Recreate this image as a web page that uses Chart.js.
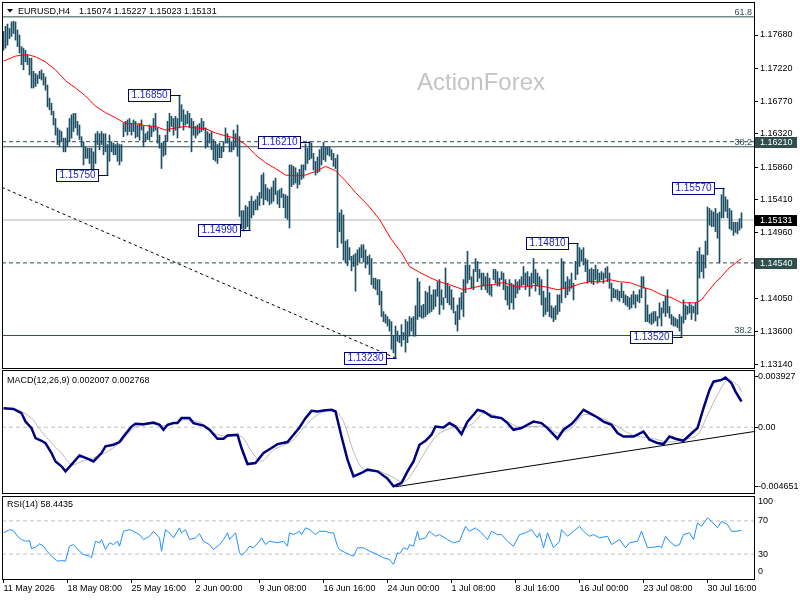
<!DOCTYPE html>
<html><head><meta charset="utf-8">
<script src="https://cdn.jsdelivr.net/npm/chart.js@4.4.1/dist/chart.umd.min.js"></script>
<style>
html,body{margin:0;padding:0;background:#fff;width:800px;height:600px;overflow:hidden}
canvas{position:absolute;left:0}
#c1{top:0}#c2{top:370px}#c3{top:495px}
</style></head><body>
<canvas id="c1" width="800" height="370"></canvas>
<canvas id="c2" width="800" height="124"></canvas>
<canvas id="c3" width="800" height="105"></canvas>
<script>
// ---------- DATA ----------
const symbolTitle = "EURUSD,H4";
const ohlcTitle = "1.15074 1.15227 1.15023 1.15131";
const macdTitle = "MACD(12,26,9) 0.002007 0.002768";
const rsiTitle = "RSI(14) 58.4435";
const watermark = "ActionForex";

const timeTickIdx = [0,32,64,96,128,160,192,224,256,288,320,352];
const timeTickLabels = ["11 May 2026","18 May 08:00","25 May 16:00","2 Jun 00:00","9 Jun 08:00","16 Jun 16:00","24 Jun 00:00","1 Jul 08:00","8 Jul 16:00","16 Jul 00:00","23 Jul 08:00","30 Jul 16:00"];
const priceTicks = [1.1768,1.1722,1.1677,1.1632,1.1586,1.1541,1.1496,1.1450,1.1405,1.1360,1.1314];
const macdTicks = [0.003927,0,-0.004651];
const macdTickLabels = ["0.003927","0.00","-0.004651"];
const rsiTicks = [100,70,30,0];

const barHigh = [
1.1773,1.1780,1.1783,1.1777,1.1786,1.1787,1.1786,1.1775,1.1768,1.1752,
1.1750,1.1747,1.1740,1.1736,1.1736,1.1718,1.1715,1.1713,1.1718,1.1720,
1.1715,1.1710,1.1699,1.1681,1.1674,1.1663,1.1653,1.1640,1.1637,1.1635,
1.1626,1.1626,1.1640,1.1653,1.1658,1.1660,1.1660,1.1649,1.1644,1.1628,
1.1621,1.1614,1.1612,1.1612,1.1612,1.1607,1.1632,1.1635,1.1632,1.1635,
1.1632,1.1632,1.1617,1.1630,1.1621,1.1619,1.1617,1.1619,1.1617,1.1617,
1.1646,1.1649,1.1651,1.1653,1.1646,1.1651,1.1649,1.1644,1.1646,1.1651,
1.1642,1.1632,1.1635,1.1644,1.1642,1.1653,1.1660,1.1640,1.1630,1.1619,
1.1621,1.1630,1.1649,1.1660,1.1656,1.1653,1.1656,1.1653,1.1685,1.1672,
1.1665,1.1658,1.1663,1.1660,1.1653,1.1649,1.1642,1.1644,1.1646,1.1653,
1.1649,1.1640,1.1635,1.1632,1.1635,1.1624,1.1621,1.1617,1.1619,1.1614,
1.1621,1.1640,1.1632,1.1626,1.1621,1.1637,1.1632,1.1644,1.1628,1.1526,
1.1526,1.1533,1.1531,1.1539,1.1546,1.1539,1.1541,1.1546,1.1551,1.1575,
1.1578,1.1562,1.1557,1.1555,1.1558,1.1567,1.1571,1.1553,1.1555,1.1557,
1.1549,1.1548,1.1546,1.1589,1.1589,1.1587,1.1585,1.1578,1.1583,1.1589,
1.1589,1.1618,1.1612,1.1621,1.1619,1.1605,1.1594,1.1600,1.1610,1.1614,
1.1620,1.1614,1.1614,1.1614,1.1610,1.1605,1.1598,1.1603,1.1523,1.1527,
1.1520,1.1484,1.1486,1.1475,1.1463,1.1465,1.1467,1.1472,1.1475,1.1479,
1.1479,1.1472,1.1463,1.1465,1.1460,1.1433,1.1433,1.1431,1.1431,1.1415,
1.1387,1.1383,1.1380,1.1376,1.1373,1.1353,1.1367,1.1360,1.1353,1.1369,
1.1358,1.1376,1.1373,1.1380,1.1378,1.1380,1.1395,1.1433,1.1428,1.1395,
1.1397,1.1415,1.1413,1.1422,1.1410,1.1417,1.1417,1.1428,1.1431,1.1417,
1.1406,1.1447,1.1426,1.1422,1.1417,1.1406,1.1387,1.1396,1.1406,1.1413,
1.1431,1.1451,1.1470,1.1451,1.1435,1.1445,1.1460,1.1456,1.1445,1.1440,
1.1440,1.1435,1.1440,1.1433,1.1424,1.1445,1.1445,1.1442,1.1433,1.1442,
1.1440,1.1431,1.1422,1.1431,1.1426,1.1424,1.1431,1.1428,1.1431,1.1435,
1.1449,1.1440,1.1442,1.1435,1.1440,1.1460,1.1445,1.1440,1.1435,1.1431,
1.1415,1.1406,1.1445,1.1413,1.1395,1.1392,1.1395,1.1410,1.1410,1.1460,
1.1456,1.1428,1.1435,1.1431,1.1440,1.1426,1.1456,1.1481,1.1475,1.1472,
1.1475,1.1460,1.1458,1.1445,1.1447,1.1445,1.1451,1.1445,1.1440,1.1442,
1.1440,1.1447,1.1449,1.1440,1.1426,1.1419,1.1417,1.1417,1.1415,1.1426,
1.1415,1.1410,1.1408,1.1406,1.1410,1.1415,1.1410,1.1410,1.1417,1.1435,
1.1435,1.1419,1.1396,1.1383,1.1385,1.1387,1.1387,1.1380,1.1399,1.1392,
1.1401,1.1408,1.1417,1.1394,1.1383,1.1380,1.1378,1.1376,1.1383,1.1380,
1.1403,1.1396,1.1394,1.1399,1.1396,1.1394,1.1399,1.1470,1.1475,1.1465,
1.1465,1.1484,1.1531,1.1529,1.1526,1.1524,1.1529,1.1522,1.1524,1.1548,
1.1557,1.1545,1.1541,1.1529,1.1526,1.1510,1.1510,1.1510,1.1515,1.1523];
const barLow = [
1.1747,1.1750,1.1754,1.1763,1.1766,1.1770,1.1761,1.1752,1.1743,1.1727,
1.1720,1.1731,1.1727,1.1713,1.1695,1.1695,1.1697,1.1701,1.1708,1.1706,
1.1699,1.1692,1.1669,1.1665,1.1658,1.1644,1.1630,1.1617,1.1614,1.1621,
1.1607,1.1607,1.1614,1.1621,1.1626,1.1635,1.1640,1.1630,1.1624,1.1614,
1.1589,1.1598,1.1598,1.1591,1.1580,1.1580,1.1591,1.1617,1.1610,1.1617,
1.1603,1.1607,1.1575,1.1594,1.1607,1.1603,1.1603,1.1594,1.1589,1.1594,
1.1628,1.1635,1.1630,1.1635,1.1630,1.1635,1.1626,1.1628,1.1623,1.1637,
1.1614,1.1621,1.1624,1.1623,1.1628,1.1635,1.1637,1.1619,1.1612,1.1584,
1.1601,1.1603,1.1621,1.1635,1.1642,1.1630,1.1637,1.1626,1.1640,1.1649,
1.1637,1.1644,1.1646,1.1640,1.1607,1.1630,1.1626,1.1630,1.1633,1.1635,
1.1637,1.1612,1.1614,1.1619,1.1610,1.1596,1.1594,1.1591,1.1599,1.1599,
1.1607,1.1619,1.1619,1.1607,1.1607,1.1610,1.1614,1.1601,1.1518,1.1501,
1.1498,1.1501,1.1504,1.1499,1.1516,1.1520,1.1527,1.1527,1.1533,1.1543,
1.1534,1.1541,1.1539,1.1534,1.1536,1.1539,1.1548,1.1535,1.1530,1.1544,
1.1530,1.1516,1.1514,1.1502,1.1559,1.1562,1.1564,1.1557,1.1562,1.1569,
1.1571,1.1582,1.1591,1.1596,1.1598,1.1582,1.1575,1.1578,1.1580,1.1589,
1.1596,1.1594,1.1603,1.1601,1.1596,1.1587,1.1584,1.1475,1.1497,1.1481,
1.1458,1.1454,1.1450,1.1458,1.1443,1.1449,1.1415,1.1451,1.1455,1.1461,
1.1455,1.1447,1.1452,1.1438,1.1424,1.1419,1.1417,1.1410,1.1396,1.1380,
1.1373,1.1371,1.1367,1.1360,1.1335,1.1330,1.1323,1.1346,1.1344,1.1339,
1.1348,1.1331,1.1344,1.1353,1.1360,1.1353,1.1353,1.1376,1.1380,1.1378,
1.1378,1.1380,1.1383,1.1385,1.1387,1.1390,1.1394,1.1408,1.1383,1.1396,
1.1390,1.1406,1.1399,1.1396,1.1390,1.1385,1.1369,1.1360,1.1376,1.1390,
1.1380,1.1413,1.1426,1.1431,1.1419,1.1417,1.1442,1.1428,1.1433,1.1417,
1.1422,1.1417,1.1413,1.1410,1.1408,1.1431,1.1426,1.1422,1.1422,1.1431,
1.1417,1.1403,1.1396,1.1390,1.1399,1.1390,1.1406,1.1412,1.1417,1.1422,
1.1424,1.1417,1.1422,1.1408,1.1419,1.1426,1.1415,1.1422,1.1410,1.1396,
1.1380,1.1383,1.1387,1.1380,1.1378,1.1373,1.1376,1.1383,1.1387,1.1399,
1.1419,1.1406,1.1410,1.1415,1.1419,1.1403,1.1431,1.1438,1.1449,1.1456,
1.1451,1.1442,1.1426,1.1428,1.1426,1.1424,1.1431,1.1426,1.1428,1.1431,
1.1426,1.1433,1.1428,1.1419,1.1401,1.1406,1.1406,1.1403,1.1401,1.1406,
1.1399,1.1396,1.1394,1.1390,1.1392,1.1397,1.1392,1.1401,1.1399,1.1406,
1.1419,1.1373,1.1373,1.1371,1.1369,1.1371,1.1374,1.1367,1.1378,1.1367,
1.1385,1.1380,1.1385,1.1378,1.1369,1.1367,1.1367,1.1365,1.1360,1.1352,
1.1371,1.1376,1.1383,1.1385,1.1376,1.1385,1.1374,1.1383,1.1433,1.1442,
1.1433,1.1447,1.1465,1.1506,1.1504,1.1504,1.1497,1.1488,1.1454,1.1516,
1.1516,1.1525,1.1516,1.1501,1.1499,1.1492,1.1496,1.1494,1.1499,1.1502];

const maIdx = [0,6,12,16,21,26,31,36,41,46,51,56,61,66,71,76,81,86,91,96,101,106,111,116,121,126,131,136,141,146,151,156,161,166,171,176,182,188,194,199,203,208,213,218,223,230,235,240,245,250,256,261,266,271,277,283,288,293,300,303,308,313,319,324,329,334,339,346,349,352,356,359,362,366,369];
const maVal = [1.1732,1.1739,1.1741,1.1738,1.1731,1.1720,1.1705,1.1695,1.1684,1.1670,1.1661,1.1654,1.1646,1.1646,1.1643,1.1642,1.1637,1.1640,1.1642,1.1640,1.1639,1.1633,1.1629,1.1626,1.1617,1.1603,1.1592,1.1584,1.1575,1.1574,1.1575,1.1580,1.1587,1.1581,1.1567,1.1551,1.1534,1.1514,1.1486,1.1468,1.1449,1.1441,1.1434,1.1428,1.1424,1.1417,1.1420,1.1423,1.1424,1.1427,1.1421,1.1421,1.1423,1.1421,1.1417,1.1420,1.1425,1.1428,1.1428,1.1431,1.1428,1.1427,1.1421,1.1417,1.1410,1.1406,1.1399,1.1399,1.1403,1.1414,1.1427,1.1435,1.1445,1.1454,1.1460];

const macdIdx = [0,5,9,11,14,16,19,21,24,26,29,31,34,38,42,45,49,51,55,58,60,64,66,70,75,78,80,82,85,87,89,93,95,100,103,107,110,112,117,119,122,126,130,134,137,142,145,148,151,154,157,160,164,166,169,172,175,179,182,187,192,195,199,202,205,208,211,214,216,220,223,226,229,232,235,237,240,244,249,252,255,259,262,265,269,272,277,280,284,286,290,294,297,300,304,307,310,315,320,323,327,330,333,336,340,345,347,350,353,355,359,361,364,366,369];
const macdVal = [0.00149,0.00143,0.0011,0.00044,-0.00007,-0.00085,-0.00106,-0.00124,-0.00202,-0.00268,-0.00306,-0.00345,-0.00293,-0.00221,-0.00246,-0.00268,-0.00202,-0.0015,-0.00137,-0.00116,-0.00073,0.00005,0.00027,0.00024,0.00037,0.00019,-0.0002,0.00019,0.00032,0.00032,0.00071,0.00071,0.00032,0.00013,-0.0002,-0.0009,-0.0009,-0.00065,-0.00059,-0.00163,-0.00288,-0.0028,-0.00202,-0.00163,-0.00132,-0.00116,-0.00059,-0.00002,0.00071,0.00128,0.00123,0.0013,0.00136,0.00123,-0.00073,-0.00254,-0.00385,-0.00358,-0.00332,-0.00345,-0.00402,-0.00462,-0.00436,-0.00345,-0.00268,-0.00137,-0.00106,-0.00059,0.00005,-0.00002,0.00032,0.00005,-0.00054,0.00044,0.00097,0.00136,0.00123,0.00083,0.00071,0.00032,-0.0002,-0.00007,0.00019,0.00044,0.00032,-0.00007,-0.0009,-0.0002,0.00024,0.00058,0.00136,0.00102,0.00076,0.00044,0.00019,-0.00046,-0.00073,-0.00073,-0.00034,-0.00098,-0.00124,-0.00132,-0.00073,-0.0009,-0.00106,-0.00034,-0.00007,0.00149,0.00292,0.00356,0.0037,0.00388,0.00344,0.00278,0.00201];

const sigIdx = [0,7,14,19,24,29,34,39,45,52,59,65,74,82,90,99,105,112,119,124,129,135,144,150,157,165,170,175,180,187,194,199,202,207,212,217,224,230,235,240,249,257,265,272,277,284,290,299,307,315,324,332,340,347,352,357,362,367,369];
const sigVal = [0.00149,0.00136,0.00071,-0.00034,-0.00124,-0.00202,-0.00293,-0.00268,-0.00241,-0.0019,-0.00112,-0.00007,0.00024,0.00011,0.00058,0.00032,-0.00046,-0.00073,-0.00073,-0.0019,-0.00268,-0.00176,-0.00112,-0.00007,0.00097,0.00136,0.00044,-0.0019,-0.00332,-0.0034,-0.00385,-0.00428,-0.0041,-0.00293,-0.00163,-0.00059,-0.00007,-0.00002,0.00032,0.0011,0.00071,0.00005,0.00005,0.00005,-0.00046,-0.00007,0.00097,0.00071,0.00005,-0.00065,-0.00085,-0.00116,-0.00098,-0.00059,0.00097,0.00253,0.0037,0.0033,0.00277];

const rsiIdx = [0,3,5,7,9,11,13,14,16,18,20,22,24,27,29,31,33,35,38,40,43,44,46,48,49,51,53,55,57,58,60,63,65,68,70,73,75,78,79,81,83,85,88,89,91,93,96,98,100,103,105,108,110,112,113,116,118,119,121,123,125,128,129,131,133,137,140,142,143,145,148,149,151,153,156,158,161,163,165,167,168,171,173,175,177,180,183,187,190,193,195,197,198,200,202,203,205,207,208,211,213,216,218,222,225,228,231,233,236,239,242,244,247,249,252,255,258,261,264,267,268,270,272,275,278,279,282,284,288,290,293,295,298,302,304,308,311,313,317,319,322,325,328,329,331,333,336,338,340,343,345,347,349,352,354,357,359,362,364,366,369];
const rsiVal = [55.6,59.5,58.3,51.5,47.5,45.5,46.3,36.7,38.3,42.4,39.5,32.8,27.5,21.5,22.3,21.5,39.5,41.5,33.5,29.5,27.5,25.6,45.5,43.6,47.5,35.5,43.6,41.5,45.5,39.5,57.5,59.5,57.5,53.5,47.5,51.5,57.5,49.6,33.5,59.5,55.6,49.6,61.6,55.6,59.5,47.5,49.6,54.4,45.5,41.5,35.5,41.5,47.5,55.6,47.5,55.6,31.6,28.7,32.8,39.5,37.6,45.5,49.6,41.5,45.5,43.6,45.5,39.5,55.6,53.5,57.5,53.5,61.6,59.5,53.5,57.5,57.5,55.6,55.6,39.5,35.5,31.6,29.5,27.5,37.6,37.6,33.5,29.5,25.6,23.5,17.5,31.6,30.4,37.6,35.5,41.5,39.5,57.5,47.5,49.6,57.5,51.5,53.5,47.5,43.6,45.5,63.5,57.5,61.6,55.6,47.5,57.5,53.5,53.5,45.5,39.5,53.5,55.6,59.5,49.6,55.6,37.6,55.6,37.6,45.5,59.5,51.5,55.6,63.5,57.5,51.5,53.5,49.6,51.5,41.5,47.5,37.6,43.6,45.5,57.5,37.6,38.3,39.5,37.6,51.5,45.5,39.5,41.5,53.5,55.6,47.5,67.6,63.5,73.6,69.5,61.6,69.5,65.5,57.5,57.5,58.4];

// horizontal levels and trendlines
const fib618 = 1.1793, level1621 = 1.1621, fib382a = 1.1614, bidPrice = 1.15131, level1454 = 1.1454, fib382b = 1.1354;
const trendIdx = [-0.75, 196], trendVal = [1.1558, 1.1323];
const macdTrendIdx = [196, 375.25], macdTrendVal = [-0.00466, -0.00034];
const markIdx = [88, 52, 153, 123, 196, 287, 339, 360];
const markVal = [1.1685, 1.1575, 1.1621, 1.1499, 1.1323, 1.1481, 1.1352, 1.1557];

// ---------- CHARTS ----------
const X_MIN = -0.75, X_MAX = 375.25;
const P_MIN = 1.130918, P_MAX = 1.181347;
const M_MIN = -0.005145, M_MAX = 0.004473;
const FONT = "'Liberation Sans', Arial, sans-serif";
Chart.defaults.font.family = FONT;
Chart.defaults.font.size = 9;
Chart.defaults.color = '#000';
const SLATE = '#2f4f4f';

function pts(ix, vals){ return ix.map((x,i)=>({x:x, y:vals[i]})); }
function hline(v, color, dash, order){
  return {type:'line', data:[{x:X_MIN,y:v},{x:X_MAX,y:v}], borderColor:color, borderWidth:1, borderDash:dash||[], pointRadius:0, order:order||20};
}
function fitY(s){ s.width = 46; s.paddingTop = 0; s.paddingBottom = 0; }
const hiddenX = {type:'linear', min:X_MIN, max:X_MAX, display:false, offset:false};
const commonOpts = {responsive:false, animation:false, devicePixelRatio:1, events:[],
  plugins:{legend:{display:false}, tooltip:{enabled:false}}};

function border(chart){
  const ca = chart.chartArea, ctx = chart.ctx;
  ctx.save(); ctx.strokeStyle = '#000'; ctx.lineWidth = 1;
  ctx.strokeRect(ca.left+0.5, ca.top+0.5, ca.width, ca.height); ctx.restore();
}

const mainPlugin = {
  id:'mainDecor',
  beforeDatasetsDraw(chart){
    const ctx = chart.ctx; ctx.save();
    ctx.font = "24px " + FONT; ctx.fillStyle = '#c4c4c4'; ctx.textBaseline = 'alphabetic';
    ctx.fillText(watermark, 417, 90); ctx.restore();
  },
  afterDraw(chart){
    const ctx = chart.ctx, xs = chart.scales.x, ys = chart.scales.y;
    border(chart);
    ctx.save();
    ctx.fillStyle = '#000';
    ctx.beginPath(); ctx.moveTo(7,9); ctx.lineTo(13,9); ctx.lineTo(10,12.5); ctx.closePath(); ctx.fill();
    ctx.font = "9px " + FONT; ctx.textBaseline = 'alphabetic';
    ctx.fillText(symbolTitle, 18, 14); ctx.fillText(ohlcTitle, 79, 14);
    ctx.fillStyle = SLATE; ctx.textAlign = 'right';
    ctx.fillText("61.8", 752, Math.round(ys.getPixelForValue(fib618)) - 2);
    ctx.fillText("38.2", 752, Math.round(ys.getPixelForValue(fib382a)) - 2);
    ctx.fillText("38.2", 752, Math.round(ys.getPixelForValue(fib382b)) - 2);
    ctx.textAlign = 'center'; ctx.textBaseline = 'middle'; ctx.font = "10px " + FONT;
    markIdx.forEach((ix, k) => {
      const bx = Math.round(xs.getPixelForValue(ix));
      const py = Math.round(ys.getPixelForValue(markVal[k]));
      const right = bx - 10, w = 42, h = 12, top = py - 6;
      ctx.fillStyle = '#fff'; ctx.fillRect(right - w, top, w, h);
      ctx.strokeStyle = '#000080'; ctx.lineWidth = 1;
      ctx.strokeRect(right - w + 0.5, top + 0.5, w, h);
      ctx.beginPath(); ctx.moveTo(right, py + 0.5); ctx.lineTo(bx + 0.5, py + 0.5); ctx.stroke();
      ctx.fillStyle = '#1a1ad0'; ctx.fillText(markVal[k].toFixed(5), right - w/2 + 0.5, top + h/2 + 0.5);
    });
    ctx.textAlign = 'left'; ctx.font = "9px " + FONT;
    [[level1621, SLATE], [bidPrice, '#000'], [level1454, SLATE]].forEach(([v, c]) => {
      const py = Math.round(ys.getPixelForValue(v));
      ctx.fillStyle = c; ctx.fillRect(755, py - 5, 42, 11);
      ctx.fillStyle = '#fff'; ctx.fillText(v.toFixed(5), 760, py + 0.5);
    });
    ctx.restore();
  }
};

new Chart(document.getElementById('c1'), {
  type:'line',
  data:{datasets:[
    hline(fib618, SLATE), hline(level1621, SLATE, [4,3]), hline(fib382a, SLATE),
    hline(bidPrice, '#b4b4b4'), hline(level1454, SLATE, [4,3]), hline(fib382b, SLATE),
    {type:'line', data:pts(trendIdx, trendVal), borderColor:'#000', borderWidth:1, borderDash:[3,3], pointRadius:0, order:15},
    {type:'bar', data:barHigh.map((h,i)=>({x:i, y:[barLow[i], h]})), backgroundColor:'#1c4d63', borderWidth:0, barThickness:1, grouped:false, order:5},
    {type:'line', data:pts(maIdx, maVal), borderColor:'#ff0000', borderWidth:1, pointRadius:0, tension:0, order:1}
  ]},
  options:Object.assign({}, commonOpts, {
    layout:{padding:{left:2, top:2, right:0, bottom:2}},
    scales:{
      x: hiddenX,
      y:{type:'linear', position:'right', min:P_MIN, max:P_MAX,
        afterBuildTicks:s=>{ s.ticks = priceTicks.map(v=>({value:v})); },
        afterFit:fitY,
        ticks:{padding:2, color:'#000', autoSkip:false, callback:v=>Number(v).toFixed(5)},
        grid:{drawOnChartArea:false, drawTicks:true, tickLength:4, color:'#000'},
        border:{display:false}}
    }
  }),
  plugins:[mainPlugin]
});

new Chart(document.getElementById('c2'), {
  type:'line',
  data:{datasets:[
    {type:'line', data:[{x:X_MIN,y:0},{x:X_MAX,y:0}], borderColor:'#c0c0c0', borderWidth:1, borderDash:[4,3], pointRadius:0, order:20},
    {type:'line', data:pts(macdTrendIdx, macdTrendVal), borderColor:'#000', borderWidth:1, pointRadius:0, order:15},
    {type:'line', data:pts(sigIdx, sigVal), borderColor:'#b8b8b8', borderWidth:1, pointRadius:0, tension:0.3, order:5},
    {type:'line', data:pts(macdIdx, macdVal), borderColor:'#000080', borderWidth:2.5, pointRadius:0, tension:0, order:1}
  ]},
  options:Object.assign({}, commonOpts, {
    layout:{padding:{left:2, top:0, right:0, bottom:1}},
    scales:{
      x: hiddenX,
      y:{type:'linear', position:'right', min:M_MIN, max:M_MAX,
        afterBuildTicks:s=>{ s.ticks = macdTicks.map(v=>({value:v})); },
        afterFit:fitY,
        ticks:{padding:0, color:'#000', autoSkip:false, callback:(v)=>macdTickLabels[macdTicks.indexOf(v)]},
        grid:{drawOnChartArea:false, drawTicks:true, tickLength:4, color:'#000'},
        border:{display:false}}
    }
  }),
  plugins:[{id:'macdDecor', afterDraw(chart){
    border(chart);
    const ctx = chart.ctx; ctx.save(); ctx.font = "9px " + FONT; ctx.fillStyle = '#000';
    ctx.textBaseline = 'alphabetic'; ctx.fillText(macdTitle, 7, 12.5); ctx.restore();
  }}]
});

new Chart(document.getElementById('c3'), {
  type:'line',
  data:{datasets:[
    {type:'line', data:[{x:X_MIN,y:70},{x:X_MAX,y:70}], borderColor:'#c0c0c0', borderWidth:1, borderDash:[4,3], pointRadius:0, order:20},
    {type:'line', data:[{x:X_MIN,y:30},{x:X_MAX,y:30}], borderColor:'#c0c0c0', borderWidth:1, borderDash:[4,3], pointRadius:0, order:20},
    {type:'line', data:pts(rsiIdx, rsiVal), borderColor:'#1e90ff', borderWidth:1, pointRadius:0, tension:0, order:1}
  ]},
  options:Object.assign({}, commonOpts, {
    layout:{padding:{left:2, top:1, right:0, bottom:0}},
    scales:{
      x:{type:'linear', min:X_MIN, max:X_MAX, offset:false,
        afterBuildTicks:s=>{ s.ticks = timeTickIdx.map(v=>({value:v})); },
        afterFit:s=>{ s.height = 21; s.paddingLeft = 0; s.paddingRight = 0; },
        ticks:{autoSkip:false, maxRotation:0, minRotation:0, align:'start', padding:0, color:'#000',
          callback:(v)=>timeTickLabels[timeTickIdx.indexOf(v)]},
        grid:{drawOnChartArea:false, drawTicks:true, tickLength:4, color:'#000'},
        border:{display:false}},
      y:{type:'linear', position:'right', min:0, max:100,
        afterFit:fitY,
        ticks:{display:false}, grid:{display:false}, border:{display:false}}
    }
  }),
  plugins:[{id:'rsiDecor', afterDraw(chart){
    border(chart);
    const ctx = chart.ctx, ys = chart.scales.y; ctx.save(); ctx.font = "9px " + FONT; ctx.fillStyle = '#000';
    ctx.textBaseline = 'alphabetic'; ctx.fillText(rsiTitle, 7, 12);
    ctx.textBaseline = 'middle';
    const off = {100:6, 70:0, 30:0, 0:-7};
    rsiTicks.forEach(v => ctx.fillText(String(v), 758, ys.getPixelForValue(v) + off[v]));
    ctx.restore();
  }}]
});
</script>
</body></html>
